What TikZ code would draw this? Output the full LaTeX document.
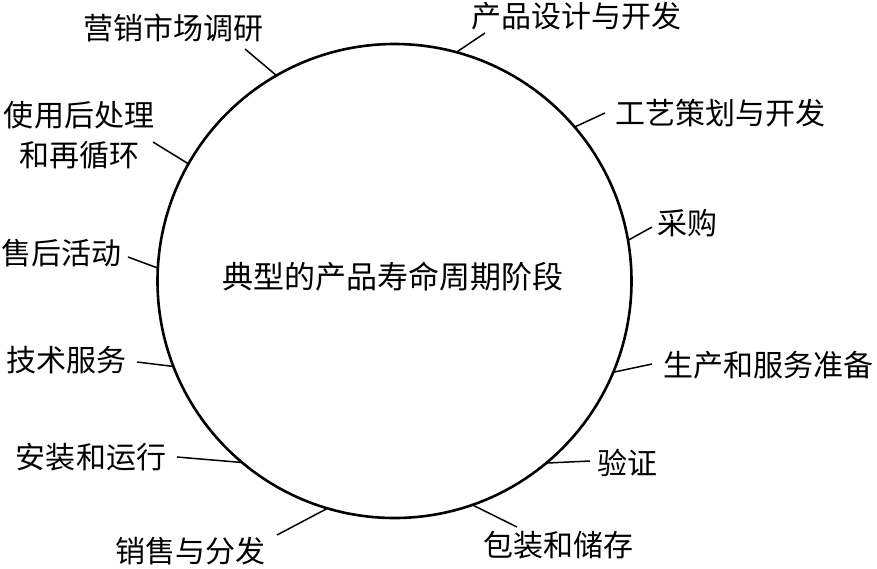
\documentclass[tikz,border=0pt]{standalone}
\usepackage{fontspec}
\newfontfamily\cjk{Noto Sans CJK SC}
\usetikzlibrary{calc}
\begin{document}
\begin{tikzpicture}[x=1pt,y=-1pt,
  lbl/.style={inner sep=0pt,font=\cjk\fontsize{30}{40}\selectfont,align=center},
  ttl/.style={inner sep=0pt,font=\cjk\fontsize{31}{40}\selectfont},
  ring/.style={draw=black,line width=2.6pt},
  tick/.style={draw=black,line width=1.5pt}]
\useasboundingbox (0,0) rectangle (877,568);
\coordinate (O) at (394.5,281);
\draw[ring] (O) circle[radius=237pt];
\node[ttl] (title) at (392.5,277) {典型的产品寿命周期阶段};
% labels
\node[lbl] (l1) at (173,28) {营销市场调研};
\node[lbl] (l2) at (576,16) {产品设计与开发};
\node[lbl] (l3) at (720.5,113) {工艺策划与开发};
\node[lbl] (l4) at (687.5,223) {采购};
\node[lbl] (l5) at (768.5,365) {生产和服务准备};
\node[lbl] (l6) at (627,463) {验证};
\node[lbl] (l7) at (558.5,545) {包装和储存};
\node[lbl] (l8) at (190,551) {销售与分发};
\node[lbl] (l9) at (91,457) {安装和运行};
\node[lbl] (l10) at (66,360) {技术服务};
\node[lbl] (l11) at (61.5,253) {售后活动};
\node[lbl] (l12) at (79,135) {使用后处理\\和再循环};
% connector ends
\coordinate (a1) at (245,49);   \coordinate (b1) at ($(O)!237pt!(275,73)$);
\coordinate (a2) at (485,33);   \coordinate (b2) at ($(O)!237pt!(457,50)$);
\coordinate (a3) at (605,113);  \coordinate (b3) at ($(O)!237pt!(577,125)$);
\coordinate (a4) at (652,227);  \coordinate (b4) at ($(O)!237pt!(630,240)$);
\coordinate (a5) at (652,364);  \coordinate (b5) at ($(O)!237pt!(615,373)$);
\coordinate (a6) at (590,461);  \coordinate (b6) at ($(O)!237pt!(547,464)$);
\coordinate (a7) at (517,527);  \coordinate (b7) at ($(O)!237pt!(473,507)$);
\coordinate (a8) at (277,535);  \coordinate (b8) at ($(O)!237pt!(327,510)$);
\coordinate (a9) at (177,457);  \coordinate (b9) at ($(O)!237pt!(240,465)$);
\coordinate (a10) at (137,362); \coordinate (b10) at ($(O)!237pt!(172,367)$);
\coordinate (a11) at (128,257); \coordinate (b11) at ($(O)!237pt!(157,268)$);
\coordinate (a12) at (153,142); \coordinate (b12) at ($(O)!237pt!(187,163)$);
\foreach \i in {1,...,12} {\draw[tick] (a\i) -- (b\i);}
\end{tikzpicture}
\end{document}
